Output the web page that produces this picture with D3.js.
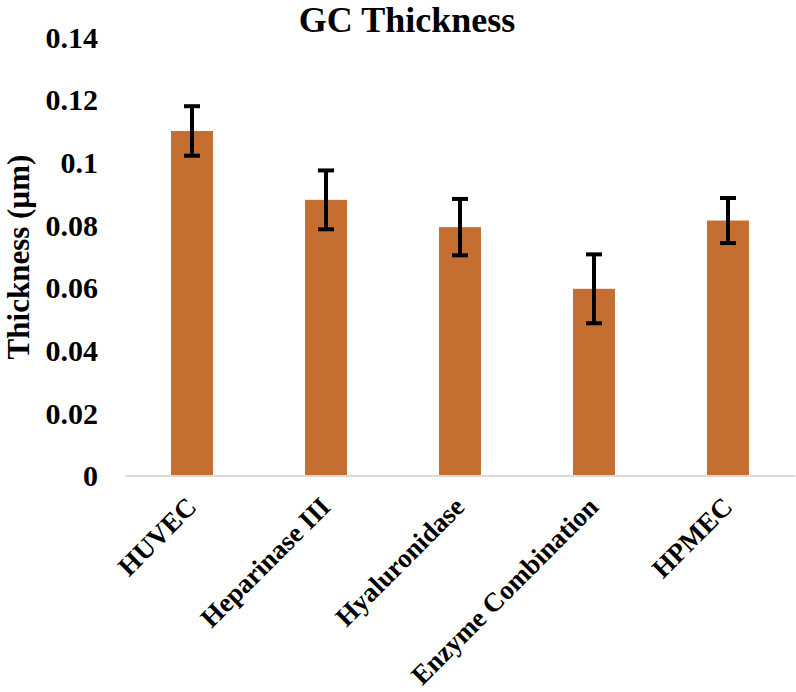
<!DOCTYPE html>
<html>
<head>
<meta charset="utf-8">
<script src="https://cdn.jsdelivr.net/npm/d3@7"></script>
<style>
  html, body { margin: 0; padding: 0; background: #fff; }
  svg { display: block; }
  text { font-family: "Liberation Serif", "Times New Roman", serif; font-weight: bold; fill: #000; }
</style>
</head>
<body>
<svg id="chart" width="796" height="692"></svg>
<script>
const categories = ["HUVEC", "Heparinase III", "Hyaluronidase", "Enzyme Combination", "HPMEC"];
const values = [0.110, 0.0880, 0.0793, 0.0596, 0.0814];
const errors = [0.0079, 0.0094, 0.0090, 0.0110, 0.0072];
const yTicks = [0, 0.02, 0.04, 0.06, 0.08, 0.1, 0.12, 0.14];
const title = "GC Thickness";
const yTitle = "Thickness (µm)";

const W = 796, H = 692;
const plot = { left: 125, right: 795, top: 37, bottom: 475.5 };

const svg = d3.select("#chart");

const x = d3.scaleBand().domain(categories).range([plot.left, plot.right]).padding(0);
const y = d3.scaleLinear().domain([0, 0.14]).range([plot.bottom, plot.top]);
const barW = x.bandwidth() * 0.313;

// title
svg.append("text")
  .attr("x", 407).attr("y", 32)
  .attr("text-anchor", "middle")
  .style("font-size", "36px")
  .text(title);

// y axis title
svg.append("text")
  .attr("transform", `translate(29,257) rotate(-90)`)
  .attr("text-anchor", "middle")
  .style("font-size", "31px")
  .text(yTitle);

// y axis tick labels (no line)
const yAxis = d3.axisLeft(y).tickValues(yTicks).tickSize(0).tickPadding(0)
  .tickFormat(d => d3.format("")(+d.toFixed(2)));
const gy = svg.append("g").attr("transform", `translate(98,0)`).call(yAxis);
gy.select(".domain").remove();
gy.selectAll("text")
  .style("font-size", "30px")
  .style("font-family", "'Liberation Serif', 'Times New Roman', serif")
  .style("font-weight", "bold")
  .attr("fill", "#000")
  .attr("dy", "0.34em");

// bars
svg.append("g").selectAll("rect")
  .data(categories)
  .join("rect")
  .attr("x", (d) => x(d) + x.bandwidth() / 2 - barW / 2)
  .attr("width", barW)
  .attr("y", (d, i) => y(values[i]))
  .attr("height", (d, i) => y(0) - y(values[i]))
  .attr("fill", "#c46e32");

// x axis line
const xAxis = d3.axisBottom(x).tickSize(0).tickPadding(0);
const gx = svg.append("g").attr("transform", `translate(0,${plot.bottom})`).call(xAxis);
gx.select(".domain").attr("stroke", "#d9d9d9").attr("stroke-width", 2.2);
gx.selectAll(".tick text")
  .style("font-size", "27px")
  .style("font-family", "'Liberation Serif', 'Times New Roman', serif")
  .style("font-weight", "bold")
  .attr("fill", "#000")
  .attr("text-anchor", "end")
  .attr("dy", 0)
  .attr("y", 0)
  .attr("transform", "translate(6,33) rotate(-45)");

// error bars
const capW = 16;
const eg = svg.append("g").attr("stroke", "#000").attr("stroke-width", 4);
categories.forEach((c, i) => {
  const cx = x(c) + x.bandwidth() / 2;
  const y1 = y(values[i] + errors[i]);
  const y2 = y(values[i] - errors[i]);
  eg.append("line").attr("x1", cx).attr("x2", cx).attr("y1", y1).attr("y2", y2);
  eg.append("line").attr("x1", cx - capW / 2).attr("x2", cx + capW / 2).attr("y1", y1).attr("y2", y1);
  eg.append("line").attr("x1", cx - capW / 2).attr("x2", cx + capW / 2).attr("y1", y2).attr("y2", y2);
});
</script>
</body>
</html>
